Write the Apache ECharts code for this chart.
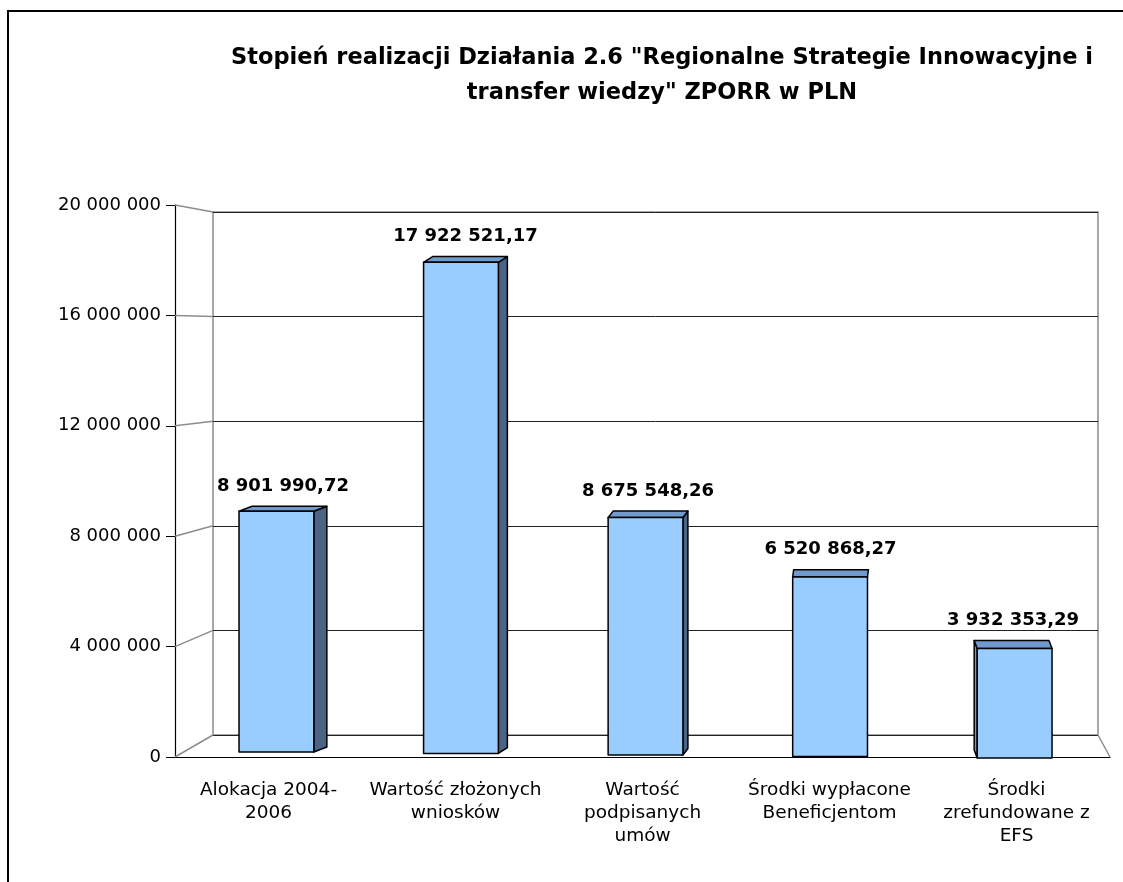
<!DOCTYPE html>
<html>
<head>
<meta charset="utf-8">
<script src="https://cdn.jsdelivr.net/npm/echarts@6/dist/echarts.min.js"></script>
<style>
  html, body { margin: 0; background: #fff; }
  #chart { width: 1123px; height: 882px; }
</style>
</head>
<body>
<div id="chart"></div>
<script>
const categories = [
  'Alokacja 2004-\n2006',
  'Wartość złożonych\nwniosków',
  'Wartość\npodpisanych\numów',
  'Środki wypłacone\nBeneficjentom',
  'Środki\nzrefundowane z\nEFS'
];
const values = [8901990.72, 17922521.17, 8675548.26, 6520868.27, 3932353.29];
const yMax = 20000000;
const yStep = 4000000;

const FONT = '"DejaVu Sans", Verdana, sans-serif';

// polish style number: 17 922 521,17
function fmtPL(v, dec) {
  const s = v.toFixed(dec).split('.');
  const int = s[0].replace(/\B(?=(\d{3})+(?!\d))/g, ' ');
  return dec ? int + ',' + s[1] : int;
}

// fake perspective for the bar depth
function depth(cx) {
  return { dx: (874 - cx) * 0.0218, dy: -5 - (cx - 278) * 0.004 };
}

function renderBar(params, api) {
  const top = api.coord([api.value(0), api.value(1)]);
  const base = api.coord([api.value(0), 0]);
  const bw = api.size([1, 0])[0] * 0.4;
  const d0 = depth(top[0]);
  const cx = top[0] + d0.dx * 0.6;
  const L = cx - bw / 2, R = cx + bw / 2, T = top[1], B = base[1] - 5 + (cx - 278) * 0.008;
  const d = depth(cx);
  const stroke = { stroke: '#000', lineWidth: 1.5, lineJoin: 'round' };
  const children = [];
  if (d.dx > 1.5) {
    children.push({
      type: 'polygon',
      shape: { points: [[R, T], [R + d.dx, T + d.dy], [R + d.dx, B + d.dy], [R, B]] },
      style: Object.assign({ fill: '#4b6384' }, stroke)
    });
  } else if (d.dx < -1.5) {
    children.push({
      type: 'polygon',
      shape: { points: [[L, T], [L + d.dx, T + d.dy], [L + d.dx, B + d.dy], [L, B]] },
      style: Object.assign({ fill: '#6f9acb' }, stroke)
    });
  }
  children.push({
    type: 'polygon',
    shape: { points: [[L, T], [R, T], [R + d.dx, T + d.dy], [L + d.dx, T + d.dy]] },
    style: Object.assign({ fill: '#6f9acb' }, stroke)
  });
  children.push({
    type: 'rect',
    shape: { x: L, y: T, width: bw, height: B - T },
    style: Object.assign({ fill: '#99ccff' }, stroke)
  });
  children.push({
    type: 'text',
    x: cx + d.dx / 2,
    y: T + d.dy - 11,
    style: {
      text: fmtPL(api.value(1), 2),
      fill: '#000',
      font: 'bold 18px ' + FONT,
      align: 'center',
      verticalAlign: 'bottom'
    }
  });
  return { type: 'group', children: children };
}

const chart = echarts.init(document.getElementById('chart'));

chart.setOption({
  animation: false,
  backgroundColor: '#fff',
  title: {
    text: 'Stopień realizacji Działania 2.6 "Regionalne Strategie Innowacyjne i\ntransfer wiedzy" ZPORR w PLN',
    left: 657,
    top: 36,
    textAlign: 'center',
    textStyle: { fontFamily: FONT, fontSize: 22.5, fontWeight: 'bold', color: '#000', lineHeight: 35 }
  },
  grid: [
    // back wall
    { left: 213, right: 25, top: 212, bottom: 147, show: true, borderColor: '#8c8c8c', borderWidth: 1.5, backgroundColor: 'transparent' },
    // front plane
    { left: 175, right: 13, top: 205, bottom: 125 }
  ],
  xAxis: [
    { gridIndex: 0, type: 'category', data: categories, show: false },
    {
      gridIndex: 1,
      type: 'category',
      data: categories,
      axisLine: { lineStyle: { color: '#000', width: 1.2 } },
      axisTick: { length: 9, lineStyle: { color: '#000' } },
      axisLabel: { color: '#000', fontFamily: FONT, fontSize: 18.5, lineHeight: 23, margin: 22, interval: 0 }
    }
  ],
  yAxis: [
    {
      gridIndex: 0, type: 'value', min: 0, max: yMax, interval: yStep,
      axisLine: { show: false }, axisTick: { show: false }, axisLabel: { show: false },
      splitLine: { lineStyle: { color: '#222', width: 1 } }
    },
    {
      gridIndex: 1, type: 'value', min: 0, max: yMax, interval: yStep,
      axisLine: { show: true, lineStyle: { color: '#000', width: 1.2 } },
      axisTick: { show: true, length: 9, lineStyle: { color: '#000' } },
      axisLabel: { color: '#000', fontFamily: FONT, fontSize: 18, margin: 14, formatter: v => fmtPL(v, 0) },
      splitLine: { show: false }
    }
  ],
  series: [{
    type: 'custom',
    xAxisIndex: 1,
    yAxisIndex: 1,
    renderItem: renderBar,
    data: values.map((v, i) => [i, v]),
    z: 10
  }]
});

// side wall + floor edges, joined between the two planes
const lines = [];
for (let v = 0; v <= yMax; v += yStep) {
  const yf = chart.convertToPixel({ yAxisIndex: 1 }, v);
  const yb = chart.convertToPixel({ yAxisIndex: 0 }, v);
  lines.push({
    type: 'line',
    shape: { x1: 175, y1: yf, x2: 213, y2: yb },
    style: { stroke: '#8c8c8c', lineWidth: 1.5 },
    z: 1
  });
}
const yb0 = chart.convertToPixel({ yAxisIndex: 0 }, 0);
const yf0 = chart.convertToPixel({ yAxisIndex: 1 }, 0);
lines.push({
  type: 'line',
  shape: { x1: 1098, y1: yb0, x2: 1110, y2: yf0 },
  style: { stroke: '#8c8c8c', lineWidth: 1.5 },
  z: 1
});
lines.push({
  type: 'rect',
  shape: { x: 8, y: 11, width: 1300, height: 1000 },
  style: { fill: 'none', stroke: '#000', lineWidth: 2 },
  z: 0
});
chart.setOption({ graphic: lines });
</script>
</body>
</html>
